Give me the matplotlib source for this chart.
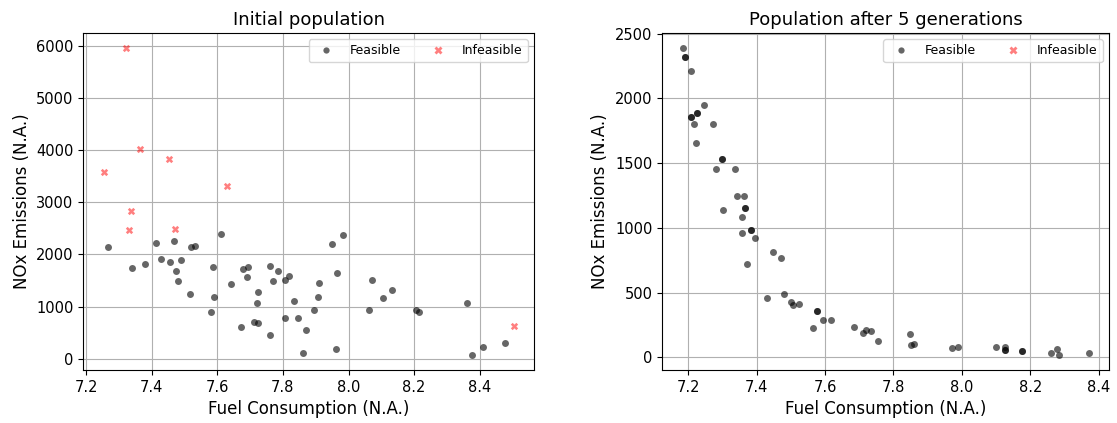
import matplotlib
matplotlib.use("Agg")
import matplotlib.pyplot as plt
from matplotlib.lines import Line2D

# Initial population: feasible designs
init_feasible_fuel = [7.268, 7.339, 7.380, 7.413, 7.429, 7.457, 7.468, 7.475, 7.480, 7.488,
                      7.518, 7.521, 7.531, 7.582, 7.587, 7.591, 7.612, 7.642, 7.673, 7.678,
                      7.692, 7.689, 7.711, 7.723, 7.720, 7.725, 7.762, 7.762, 7.771, 7.785,
                      7.805, 7.806, 7.817, 7.835, 7.845, 7.860, 7.869, 7.949, 7.983, 7.965,
                      7.911, 7.908, 7.896, 7.963, 8.071, 8.105, 8.133, 8.063, 8.205, 8.215,
                      8.361, 8.377, 8.410, 8.477]
init_feasible_nox = [2146, 1744, 1820, 2216, 1903, 1852, 2248, 1673, 1488, 1891,
                     1232, 2133, 2171, 900, 1763, 1175, 2395, 1424, 600, 1724,
                     1757, 1558, 696, 1278, 1067, 684, 1782, 460, 1488, 1680,
                     786, 1501, 1577, 1105, 786, 102, 542, 2209, 2363, 1642,
                     1443, 1182, 939, 192, 1514, 1155, 1322, 939, 930, 890,
                     1067, 77, 217, 307]

# Initial population: infeasible designs
init_infeasible_fuel = [7.322, 7.254, 7.364, 7.454, 7.630, 7.337, 7.332, 7.470, 8.503]
init_infeasible_nox = [5953, 3589, 4018, 3826, 3309, 2836, 2466, 2485, 632]

# Population after 5 generations (all feasible)
gen5_fuel = [7.184, 7.191, 7.191, 7.208, 7.248, 7.225, 7.225, 7.209, 7.209, 7.218,
             7.274, 7.222, 7.298, 7.298, 7.283, 7.336, 7.342, 7.363, 7.365, 7.365,
             7.302, 7.357, 7.358, 7.385, 7.385, 7.396, 7.449, 7.471, 7.371, 7.432,
             7.479, 7.500, 7.506, 7.524, 7.576, 7.576, 7.564, 7.593, 7.617, 7.685,
             7.712, 7.720, 7.733, 7.755, 7.849, 7.852, 7.859, 7.972, 7.987, 8.098,
             8.125, 8.126, 8.126, 8.175, 8.175, 8.261, 8.277, 8.282, 8.370]
gen5_nox = [2386, 2319, 2319, 2209, 1951, 1885, 1885, 1857, 1857, 1803,
            1803, 1656, 1531, 1531, 1456, 1458, 1248, 1243, 1153, 1153,
            1138, 1086, 961, 986, 986, 919, 814, 765, 722, 457,
            488, 424, 406, 411, 360, 360, 226, 290, 287, 234,
            187, 211, 206, 126, 182, 95, 105, 69, 77, 77,
            77, 56, 56, 49, 49, 33, 64, 21, 36]

FEAS_COLOR = "black"
INFEAS_COLOR = "red"

fig = plt.figure(figsize=(11.17, 4.23), dpi=100)
ax1 = fig.add_axes([0.0746, 0.1253, 0.4035, 0.7967])
ax2 = fig.add_axes([0.5929, 0.1253, 0.3999, 0.7967])


def legend_handles():
    return [
        Line2D([], [], linestyle="none", marker="o", markersize=4.5,
               markerfacecolor=FEAS_COLOR, markeredgecolor="none", alpha=0.6,
               label="Feasible"),
        Line2D([], [], linestyle="none", marker="X", markersize=5.5,
               markerfacecolor=INFEAS_COLOR, markeredgecolor="none", alpha=0.5,
               label="Infeasible"),
    ]


ax1.scatter(init_feasible_fuel, init_feasible_nox, s=25, c=FEAS_COLOR,
            alpha=0.6, linewidths=0, zorder=3)
ax1.scatter(init_infeasible_fuel, init_infeasible_nox, s=28, c=INFEAS_COLOR,
            marker="X", alpha=0.5, linewidths=0, zorder=3)
ax1.set_title("Initial population", fontsize=13)

ax2.scatter(gen5_fuel, gen5_nox, s=25, c=FEAS_COLOR, alpha=0.6,
            linewidths=0, zorder=3)
ax2.set_title("Population after 5 generations", fontsize=13)

for ax in (ax1, ax2):
    ax.grid(True, zorder=0)
    ax.set_axisbelow(True)
    ax.set_xlabel("Fuel Consumption (N.A.)", fontsize=12)
    ax.set_ylabel("NOx Emissions (N.A.)", fontsize=12)
    ax.tick_params(labelsize=10.5)
    ax.legend(handles=legend_handles(), loc="upper right", ncol=2,
              fontsize=9, columnspacing=2.0, handletextpad=0.9)

ax1.set_xticks([7.2, 7.4, 7.6, 7.8, 8.0, 8.2, 8.4])
ax2.set_xticks([7.2, 7.4, 7.6, 7.8, 8.0, 8.2, 8.4])

fig.savefig("out.png", dpi=100)
